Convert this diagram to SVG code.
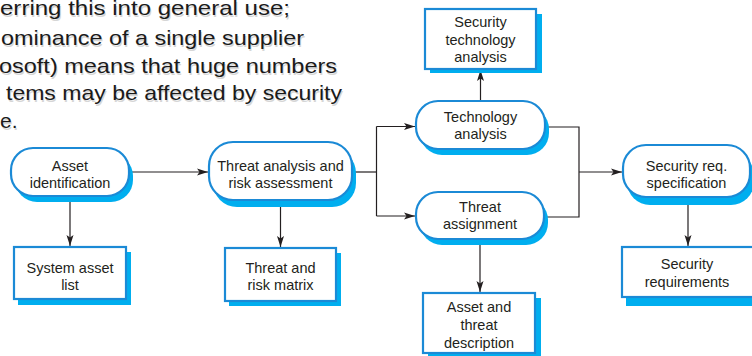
<svg xmlns="http://www.w3.org/2000/svg" width="752" height="356" viewBox="0 0 752 356">
<defs>
<marker id="ah" markerUnits="userSpaceOnUse" markerWidth="12" markerHeight="8" refX="11" refY="4" orient="auto">
<path d="M0,0.5 L11,4 L0,7.5 L2.5,4 Z" fill="#231f20"/>
</marker>
</defs>
<style>
.bg{fill:#ffffff}
.sh{fill:#00aeef}
.nd{fill:#ffffff;stroke:#1b8ad6;stroke-width:2.2}
.lb{font-family:"Liberation Sans","Open Sans",sans-serif;font-size:14.5px;fill:#231f20;text-anchor:middle}
.body{font-family:"Liberation Sans","DejaVu Sans",sans-serif;font-size:21px;fill:#1a1a1a}
.bsh{font-family:"Liberation Sans","DejaVu Sans",sans-serif;font-size:21px;fill:#d6d6d6}
.cn{fill:none;stroke:#231f20;stroke-width:1.2}
</style>
<rect class="bg" x="0" y="0" width="752" height="356"/>

<g id="bodytext">
<text class="bsh" x="1" y="16.5" textLength="290" lengthAdjust="spacingAndGlyphs">erring this into general use;</text>
<text class="bsh" x="2" y="46.5" textLength="303" lengthAdjust="spacingAndGlyphs">ominance of a single supplier</text>
<text class="bsh" x="0" y="74.5" textLength="338" lengthAdjust="spacingAndGlyphs">osoft) means that huge numbers</text>
<text class="bsh" x="7" y="101.5" textLength="336" lengthAdjust="spacingAndGlyphs">tems may be affected by security</text>
<text class="bsh" x="1" y="129.5">e.</text>
<text class="body" x="0" y="15" textLength="290" lengthAdjust="spacingAndGlyphs">erring this into general use;</text>
<text class="body" x="1" y="45" textLength="303" lengthAdjust="spacingAndGlyphs">ominance of a single supplier</text>
<text class="body" x="-1" y="73" textLength="338" lengthAdjust="spacingAndGlyphs">osoft) means that huge numbers</text>
<text class="body" x="6" y="100" textLength="336" lengthAdjust="spacingAndGlyphs">tems may be affected by security</text>
<text class="body" x="0" y="128">e.</text>
</g>

<g id="connectors">
<path class="cn" d="M129,172 H208" marker-end="url(#ah)"/>
<path class="cn" d="M70,197 V246" marker-end="url(#ah)"/>
<path class="cn" d="M280.5,201 V247" marker-end="url(#ah)"/>
<path class="cn" d="M353,172 H376.5"/>
<path class="cn" d="M376.5,126.5 V216"/>
<path class="cn" d="M376.5,126.5 H415" marker-end="url(#ah)"/>
<path class="cn" d="M376.5,216 H415" marker-end="url(#ah)"/>
<path class="cn" d="M480.5,101 V70" marker-end="url(#ah)"/>
<path class="cn" d="M546,127 H579 V217 H546"/>
<path class="cn" d="M579,172 H622" marker-end="url(#ah)"/>
<path class="cn" d="M688,198 V246" marker-end="url(#ah)"/>
<path class="cn" d="M480,240 V292" marker-end="url(#ah)"/>
</g>

<g id="asset-identification">
<rect class="sh" x="15" y="154" width="118" height="48" rx="22"/>
<rect class="nd" x="11" y="148" width="118" height="48" rx="22"/>
<text class="lb" x="70" y="171">Asset</text>
<text class="lb" x="70" y="188">identification</text>
</g>

<g id="threat-analysis">
<rect class="sh" x="213" y="149" width="143" height="58" rx="24"/>
<rect class="nd" x="209" y="142" width="143" height="58" rx="24"/>
<text class="lb" x="280.5" y="171">Threat analysis and</text>
<text class="lb" x="280.5" y="188">risk assessment</text>
</g>

<g id="system-asset-list">
<rect class="sh" x="18" y="252" width="113" height="53"/>
<rect class="nd" x="14" y="247" width="112" height="52"/>
<text class="lb" x="70" y="273">System asset</text>
<text class="lb" x="70" y="290">list</text>
</g>

<g id="threat-risk-matrix">
<rect class="sh" x="229" y="253" width="112" height="53"/>
<rect class="nd" x="225" y="248" width="111" height="53"/>
<text class="lb" x="280.5" y="273">Threat and</text>
<text class="lb" x="280.5" y="290">risk matrix</text>
</g>

<g id="security-technology-analysis">
<rect class="sh" x="430" y="14" width="112" height="59"/>
<rect class="nd" x="425" y="9" width="111" height="60"/>
<text class="lb" x="480.5" y="27">Security</text>
<text class="lb" x="480.5" y="44.5">technology</text>
<text class="lb" x="480.5" y="62">analysis</text>
</g>

<g id="technology-analysis">
<rect class="sh" x="420" y="107" width="129" height="48" rx="22"/>
<rect class="nd" x="416" y="101" width="129" height="48" rx="22"/>
<text class="lb" x="480.5" y="121.5">Technology</text>
<text class="lb" x="480.5" y="139">analysis</text>
</g>

<g id="threat-assignment">
<rect class="sh" x="420" y="198" width="128" height="47" rx="22"/>
<rect class="nd" x="416" y="192" width="128" height="47" rx="22"/>
<text class="lb" x="480" y="211.5">Threat</text>
<text class="lb" x="480" y="228.5">assignment</text>
</g>

<g id="asset-threat-description">
<rect class="sh" x="428" y="298" width="113" height="60"/>
<rect class="nd" x="423" y="293" width="112" height="60"/>
<text class="lb" x="479" y="312">Asset and</text>
<text class="lb" x="479" y="330">threat</text>
<text class="lb" x="479" y="347.5">description</text>
</g>

<g id="security-req-specification">
<rect class="sh" x="627" y="152" width="127" height="53" rx="23"/>
<rect class="nd" x="623" y="145" width="127" height="52" rx="23"/>
<text class="lb" x="686.5" y="170.5">Security req.</text>
<text class="lb" x="686.5" y="187.5">specification</text>
</g>

<g id="security-requirements">
<rect class="sh" x="626" y="253" width="130" height="53"/>
<rect class="nd" x="622" y="247" width="134" height="50"/>
<text class="lb" x="687" y="269">Security</text>
<text class="lb" x="687" y="286.5">requirements</text>
</g>
</svg>
